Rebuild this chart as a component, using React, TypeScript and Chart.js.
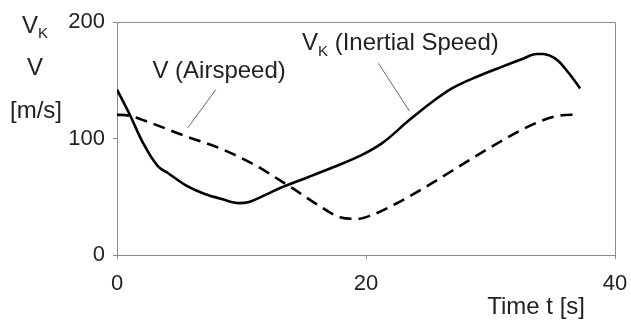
import React, { useEffect, useRef } from "react";
import { Chart, registerables } from "chart.js";

Chart.register(...registerables);

// Inertial speed V_K over time
const timeVK = [0, 1.0, 2.1, 3.3, 4.0, 5.5, 7.0, 8.4, 9.8, 10.6, 12.0, 13.1, 15.4, 17.4, 19.6, 21.3, 23.5, 25.2, 26.9, 28.9, 30.9, 32.5, 33.7, 34.2, 35.4, 36.3, 37.2];
const speedVK = [142, 121, 96, 76, 71, 60, 52.5, 48, 44.5, 45.5, 52, 57.5, 67, 75.5, 85.5, 96, 116, 130.5, 143, 153, 161.5, 168, 172.5, 172.5, 167, 156, 143];

// Airspeed V over time
const timeV = [0, 1.0, 2.7, 5.5, 8.4, 11.2, 13.1, 14.0, 16.2, 17.9, 19.3, 20.4, 22.4, 25.2, 28.0, 30.9, 33.7, 35.4, 37.0];
const speedV = [120.5, 119.5, 113.5, 102, 91, 76.5, 64, 58, 42.5, 32.5, 31, 34, 44, 61, 79.5, 98, 113.5, 119.5, 120.5];

const xTicks = [0, 20, 40];
const yTicks = [0, 100, 200];

const FONT = "'Liberation Sans', Arial, sans-serif";
const AXIS_GRAY = "#8c8c8c";
const TEXT = "#222";

const toPoints = (xs: number[], ys: number[]) => xs.map((x, i) => ({ x, y: ys[i] }));

// Frame, axis captions, curve labels and their leader lines
const decorations = {
  id: "decorations",
  afterDraw(chart: any) {
    const { ctx, chartArea, scales } = chart;
    const xs = scales.x;
    const ys = scales.y;
    const px = (t: number) => xs.getPixelForValue(t);
    const py = (v: number) => ys.getPixelForValue(v);
    ctx.save();

    // box frame
    ctx.strokeStyle = AXIS_GRAY;
    ctx.lineWidth = 1;
    ctx.beginPath();
    ctx.moveTo(chartArea.left, chartArea.top + 0.5);
    ctx.lineTo(chartArea.right + 0.5, chartArea.top + 0.5);
    ctx.lineTo(chartArea.right + 0.5, chartArea.bottom);
    ctx.stroke();

    // leader lines
    ctx.strokeStyle = "#666";
    ctx.lineWidth = 1;
    ctx.beginPath();
    ctx.moveTo(px(7.93), py(141.8));
    ctx.lineTo(px(5.68), py(109.2));
    ctx.moveTo(px(21.0), py(164.5));
    ctx.lineTo(px(23.5), py(123.4));
    ctx.stroke();

    ctx.fillStyle = TEXT;
    ctx.textBaseline = "middle";
    const big = `24px ${FONT}`;
    const small = `15px ${FONT}`;

    // V with subscript K, left-aligned at x
    const drawVK = (x: number, y: number, rest: string) => {
      ctx.textAlign = "left";
      ctx.font = big;
      ctx.fillText("V", x, y);
      const w = ctx.measureText("V").width;
      ctx.font = small;
      ctx.fillText("K", x + w, y + 8);
      const wk = ctx.measureText("K").width;
      ctx.font = big;
      if (rest) ctx.fillText(rest, x + w + wk, y);
    };

    // curve labels
    ctx.font = big;
    ctx.textAlign = "center";
    ctx.fillText("V (Airspeed)", px(8.2), py(157.5));
    drawVK(px(14.86), py(181.5), " (Inertial Speed)");

    // y-axis caption
    drawVK(22, 26, "");
    ctx.font = big;
    ctx.textAlign = "center";
    ctx.fillText("V", 35, 68);
    ctx.fillText("[m/s]", 36, 111);

    // x-axis caption
    ctx.textAlign = "right";
    ctx.fillText("Time t [s]", 585, 307);

    ctx.restore();
  },
};

export default function App() {
  const canvasRef = useRef<HTMLCanvasElement>(null);

  useEffect(() => {
    const canvas = canvasRef.current;
    if (!canvas) return;
    const chart = new Chart(canvas, {
      type: "line",
      data: {
        datasets: [
          {
            label: "V (Airspeed)",
            data: toPoints(timeV, speedV),
            borderColor: "#000",
            borderWidth: 2.6,
            borderDash: [12, 7],
            pointRadius: 0,
            cubicInterpolationMode: "monotone",
            fill: false,
          },
          {
            label: "V_K (Inertial Speed)",
            data: toPoints(timeVK, speedVK),
            borderColor: "#000",
            borderWidth: 2.6,
            pointRadius: 0,
            cubicInterpolationMode: "monotone",
            fill: false,
          },
        ],
      },
      options: {
        animation: false,
        responsive: false,
        devicePixelRatio: 1,
        layout: { padding: { left: 0, right: 16, top: 22, bottom: 0 } },
        plugins: {
          legend: { display: false },
          tooltip: { enabled: false },
        },
        scales: {
          x: {
            type: "linear",
            min: 0,
            max: 40,
            afterFit: (s: any) => {
              s.height = 67;
              // end labels may overhang into the outer margins
              s.paddingLeft = 0;
              s.paddingRight = 0;
            },
            afterBuildTicks: (s: any) => {
              s.ticks = xTicks.map((value) => ({ value }));
            },
            border: { display: true, color: AXIS_GRAY, width: 1 },
            grid: { drawOnChartArea: false, drawTicks: true, tickLength: 4, color: AXIS_GRAY },
            ticks: {
              color: TEXT,
              padding: 12,
              maxRotation: 0,
              font: { family: FONT, size: 22 },
            },
          },
          y: {
            type: "linear",
            min: 0,
            max: 200,
            afterFit: (s: any) => {
              s.width = 117;
              s.paddingTop = 0;
              s.paddingBottom = 0;
            },
            afterBuildTicks: (s: any) => {
              s.ticks = yTicks.map((value) => ({ value }));
            },
            border: { display: true, color: AXIS_GRAY, width: 1 },
            grid: { drawOnChartArea: false, drawTicks: true, tickLength: 4, color: AXIS_GRAY },
            ticks: {
              color: TEXT,
              padding: 8,
              font: { family: FONT, size: 22 },
            },
          },
        },
      },
      plugins: [decorations],
    });
    return () => chart.destroy();
  }, []);

  return (
    <div style={{ position: "absolute", left: 0, top: 0, width: 631, height: 322, background: "#fff" }}>
      <canvas ref={canvasRef} width={631} height={322} style={{ display: "block" }} />
    </div>
  );
}
